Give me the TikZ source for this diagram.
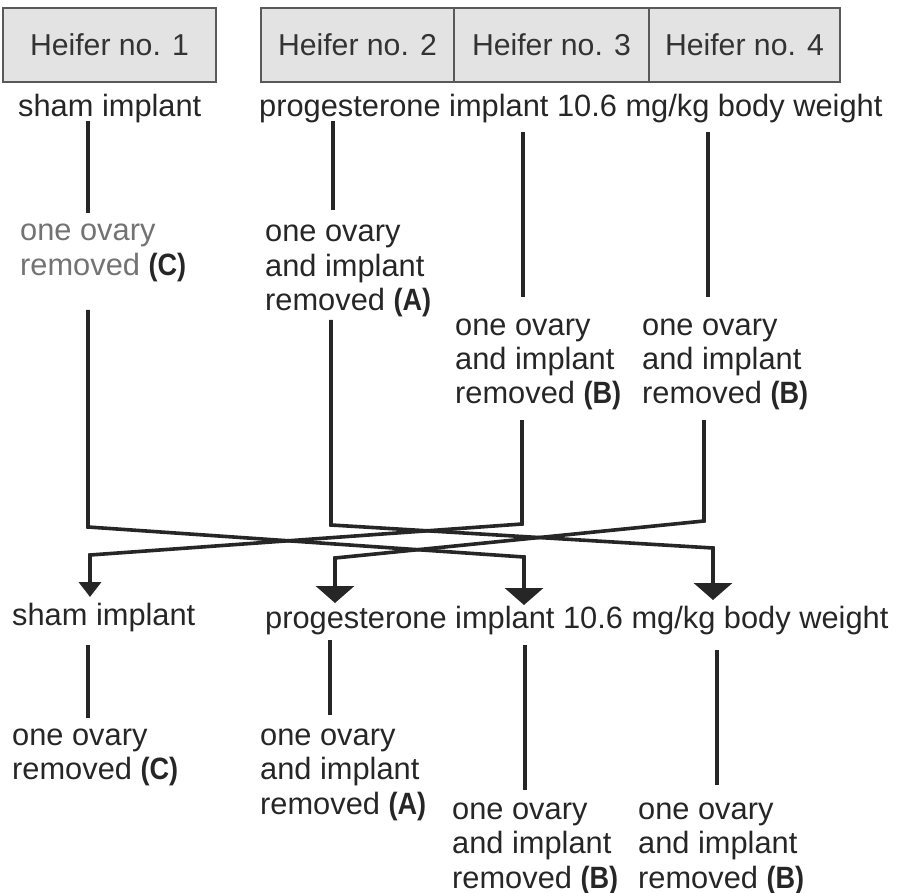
\documentclass[tikz,border=0pt]{standalone}
\usepackage{fontspec}
\setmainfont{Liberation Sans}
\newfontface\bnarrow{Liberation Sans Bold}[FakeStretch=0.88]
\newcommand\lbl[1]{{\bnarrow #1}}
\usetikzlibrary{arrows.meta}
\newcommand\blk[1]{\vtop{\baselineskip=34.5pt\lineskiplimit=-20pt\halign{##\hfil\cr#1\crcr}}}
\begin{document}
\begin{tikzpicture}[x=1pt,y=-1pt,
  txt/.style={anchor=base west,inner sep=0pt,font=\fontsize{30.8pt}{34.5pt}\selectfont,text=black!85},
  hbox/.style={draw=black!65,line width=1.2pt,fill=black!11,minimum height=74pt,inner sep=0pt,font=\fontsize{30.2pt}{34pt}\selectfont,text=black!80},
  conn/.style={line width=3.6pt,draw=black!85},
  bigtip/.style={-{Triangle[width=38pt,length=17pt]}},
  smalltip/.style={-{Triangle[width=22pt,length=15pt]}}]
\useasboundingbox (0,0) rectangle (897,893);
% boxes
\node[hbox,minimum width=213pt] (h1) at (109.5,45) {Heifer no. 1};
\node[hbox,minimum width=193pt] (h2) at (357.5,45) {Heifer no. 2};
\node[hbox,minimum width=195pt] (h3) at (551.5,45) {Heifer no. 3};
\node[hbox,minimum width=191pt] (h4) at (744.5,45) {Heifer no. 4};
% top texts
\node[txt] (s1) at (18,117) {sham implant};
\node[txt] (p1) at (259,117) {progesterone implant 10.6 mg/kg body weight};
\node[txt,text=black!55] (r1) at (20,241) {\blk{one ovary\cr removed \textcolor{black!85}{\lbl{(C)}}}};
\node[txt] (r2) at (265,242) {\blk{one ovary\cr and implant\cr removed \lbl{(A)}}};
\node[txt] (r3) at (455,335) {\blk{one ovary\cr and implant\cr removed \lbl{(B)}}};
\node[txt] (r4) at (642,335) {\blk{one ovary\cr and implant\cr removed \lbl{(B)}}};
% bottom texts
\node[txt] (s2) at (12,625) {sham implant};
\node[txt] (p2) at (265,628) {progesterone implant 10.6 mg/kg body weight};
\node[txt] (q1) at (12,745) {\blk{one ovary\cr removed \lbl{(C)}}};
\node[txt] (q2) at (260,745) {\blk{one ovary\cr and implant\cr removed \lbl{(A)}}};
\node[txt] (q3) at (452,819) {\blk{one ovary\cr and implant\cr removed \lbl{(B)}}};
\node[txt] (q4) at (638,819) {\blk{one ovary\cr and implant\cr removed \lbl{(B)}}};
% coordinates
\coordinate (u1a) at (88,121);  \coordinate (u1b) at (88,213);
\coordinate (u2a) at (333,121); \coordinate (u2b) at (333,210);
\coordinate (u3a) at (523,132); \coordinate (u3b) at (523,297);
\coordinate (u4a) at (708,132); \coordinate (u4b) at (708,297);
\coordinate (m1a) at (88,310);  \coordinate (m1b) at (88,527);
\coordinate (m2a) at (331,320); \coordinate (m2b) at (331,525);
\coordinate (m3a) at (522,420); \coordinate (m3b) at (522,524);
\coordinate (m4a) at (704,420); \coordinate (m4b) at (704,521);
\coordinate (c1) at (90,555);  \coordinate (e1) at (90,597);
\coordinate (c2) at (335,558); \coordinate (e2) at (335,603);
\coordinate (c3) at (524,557); \coordinate (e3) at (524,605);
\coordinate (c4) at (713,548); \coordinate (e4) at (713,600);
\coordinate (l1a) at (88,645);  \coordinate (l1b) at (88,718);
\coordinate (l2a) at (330,640); \coordinate (l2b) at (330,715);
\coordinate (l3a) at (525,645); \coordinate (l3b) at (525,790);
\coordinate (l4a) at (717,650); \coordinate (l4b) at (717,785);
% top verticals
\draw[conn] (u1a) -- (u1b);
\draw[conn] (u2a) -- (u2b);
\draw[conn] (u3a) -- (u3b);
\draw[conn] (u4a) -- (u4b);
% crossing paths
\draw[conn,bigtip] (m1a) -- (m1b) -- (c3) -- (e3);
\draw[conn,bigtip] (m2a) -- (m2b) -- (c4) -- (e4);
\draw[conn,smalltip] (m3a) -- (m3b) -- (c1) -- (e1);
\draw[conn,bigtip] (m4a) -- (m4b) -- (c2) -- (e2);
% bottom verticals
\draw[conn] (l1a) -- (l1b);
\draw[conn] (l2a) -- (l2b);
\draw[conn] (l3a) -- (l3b);
\draw[conn] (l4a) -- (l4b);
\end{tikzpicture}
\end{document}
